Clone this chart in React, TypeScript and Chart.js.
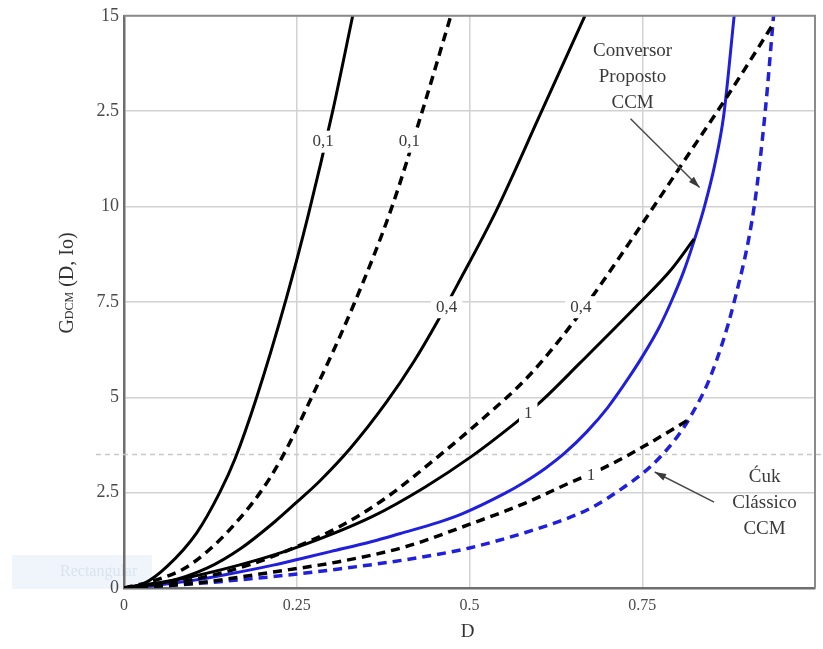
import React, { useEffect, useRef } from 'react';
import { Chart, registerables } from 'chart.js';
Chart.register(...registerables);

const xTickLabels = ['0', '0.25', '0.5', '0.75', ''];
const yTickLabels = ['0', '2.5', '5', '7.5', '10', '2.5', '15'];

// Proposed converter, CCM (blue solid)
const propCcmD = [0, 0.05, 0.1, 0.15, 0.216, 0.263, 0.3, 0.359, 0.4, 0.455, 0.49, 0.551, 0.58, 0.61, 0.638, 0.67, 0.7, 0.73, 0.753, 0.775, 0.793, 0.81, 0.825, 0.84, 0.855, 0.868, 0.883];
const propCcmG = [0, 0.08, 0.2, 0.36, 0.6, 0.8, 0.96, 1.22, 1.43, 1.72, 1.95, 2.48, 2.78, 3.14, 3.54, 4.1, 4.73, 5.5, 6.15, 6.85, 7.55, 8.3, 9.1, 10.0, 11.1, 12.4, 15];
// Classic Cuk, CCM (blue dashed)
const cukCcmD = [0, 0.1, 0.216, 0.311, 0.407, 0.5, 0.58, 0.638, 0.676, 0.72, 0.763, 0.8, 0.82, 0.85, 0.883, 0.912, 0.928, 0.94];
const cukCcmG = [0, 0.11, 0.3, 0.5, 0.74, 1.05, 1.45, 1.8, 2.1, 2.6, 3.2, 3.95, 4.5, 5.6, 7.5, 10, 12.5, 15];
// Proposed DCM, k = 0.1 (black solid)
const prop01D = [0, 0.03, 0.062, 0.105, 0.139, 0.161, 0.192, 0.235, 0.267, 0.302, 0.331];
const prop01G = [0, 0.13, 0.56, 1.44, 2.52, 3.4, 5.0, 7.6, 9.8, 12.5, 15];
// Cuk DCM, k = 0.1 (black dashed)
const cuk01D = [0, 0.045, 0.086, 0.12, 0.154, 0.197, 0.228, 0.269, 0.333, 0.387, 0.43, 0.473];
const cuk01G = [0, 0.2, 0.5, 0.95, 1.55, 2.5, 3.4, 4.9, 7.45, 9.95, 12.4, 15];
// Proposed DCM, k = 0.4 (black solid)
const prop04D = [0, 0.06, 0.12, 0.17, 0.219, 0.25, 0.283, 0.327, 0.379, 0.42, 0.454, 0.484, 0.539, 0.602, 0.667];
const prop04G = [0, 0.15, 0.52, 1.05, 1.75, 2.25, 2.8, 3.65, 4.85, 5.95, 7.0, 8.0, 9.9, 12.4, 15];
// Cuk DCM, k = 0.4 (black dashed)
const cuk04D = [0, 0.06, 0.12, 0.18, 0.239, 0.311, 0.378, 0.455, 0.52, 0.58, 0.628, 0.676, 0.763, 0.82, 0.868, 0.914, 0.94];
const cuk04G = [0, 0.1, 0.3, 0.6, 1.0, 1.6, 2.35, 3.45, 4.45, 5.45, 6.45, 7.6, 9.9, 11.45, 12.75, 14.05, 14.8];
// Proposed DCM, k = 1 (black solid)
const prop1D = [0, 0.096, 0.192, 0.263, 0.359, 0.436, 0.503, 0.561, 0.604, 0.66, 0.745, 0.792, 0.825];
const prop1G = [0, 0.29, 0.73, 1.15, 1.87, 2.65, 3.45, 4.25, 4.9, 5.9, 7.45, 8.35, 9.15];
// Cuk DCM, k = 1 (black dashed)
const cuk1D = [0, 0.1, 0.216, 0.311, 0.407, 0.503, 0.58, 0.638, 0.7, 0.753, 0.816];
const cuk1G = [0, 0.12, 0.42, 0.69, 1.08, 1.69, 2.22, 2.7, 3.2, 3.72, 4.4];

const refLevel = 3.5;

const curveLabels = [
  { text: '0,1', d: 0.288, g: 11.7 },
  { text: '0,1', d: 0.413, g: 11.7 },
  { text: '0,4', d: 0.467, g: 7.36 },
  { text: '0,4', d: 0.661, g: 7.36 },
  { text: '1', d: 0.585, g: 4.58 },
  { text: '1', d: 0.676, g: 2.96 },
];

const notes = [
  { lines: ['Conversor', 'Proposto', 'CCM'], d: 0.736, g: 14.08, from: [0.733, 12.3], to: [0.833, 10.5] },
  { lines: ['Ćuk', 'Clássico', 'CCM'], d: 0.927, g: 2.92, from: [0.854, 2.25], to: [0.768, 3.04] },
];

const pts = (xs: number[], ys: number[]) => xs.map((x, i) => ({ x, y: ys[i] }));

const BLUE = '#2020dc';
const SERIF = '"Liberation Serif", "DejaVu Serif", serif';

export default function App() {
  const ref = useRef<HTMLCanvasElement | null>(null);
  useEffect(() => {
    const canvas = ref.current;
    if (!canvas) return;
    const solid = (data: any, color: string) => ({
      data, borderColor: color, borderWidth: 3, pointRadius: 0, fill: false,
      cubicInterpolationMode: 'monotone' as const,
    });
    const dashed = (data: any, color: string) => ({
      data, borderColor: color, borderWidth: 3.5, borderDash: [9, 6], pointRadius: 0, fill: false,
      cubicInterpolationMode: 'monotone' as const,
    });
    const overlay = {
      id: 'overlay',
      beforeDraw(chart: any) {
        const c = chart.ctx;
        c.save();
        c.fillStyle = '#ffffff';
        c.fillRect(0, 0, chart.width, chart.height);
        c.fillStyle = 'rgba(225,236,248,0.55)';
        c.fillRect(12, 555, 140, 34);
        c.fillStyle = 'rgba(180,195,215,0.35)';
        c.font = '16px ' + SERIF;
        c.textBaseline = 'middle';
        c.fillText('Rectangular', 60, 572);
        c.restore();
      },
      beforeDatasetsDraw(chart: any) {
        const c = chart.ctx;
        const y = chart.scales.y.getPixelForValue(refLevel);
        c.save();
        c.strokeStyle = '#c8c8c8';
        c.lineWidth = 1.5;
        c.setLineDash([5, 4]);
        c.beginPath();
        c.moveTo(chart.chartArea.left - 28, y);
        c.lineTo(chart.width, y);
        c.stroke();
        c.restore();
      },
      afterDatasetsDraw(chart: any) {
        const c = chart.ctx;
        const xs = chart.scales.x, ys = chart.scales.y;
        const a = chart.chartArea;
        c.save();
        c.strokeStyle = '#8a8a8a';
        c.lineWidth = 2;
        c.beginPath();
        c.moveTo(a.left, a.top);
        c.lineTo(a.right, a.top);
        c.lineTo(a.right, a.bottom);
        c.stroke();
        c.font = '17px ' + SERIF;
        c.textAlign = 'center';
        c.textBaseline = 'middle';
        for (const l of curveLabels) {
          const px = xs.getPixelForValue(l.d), py = ys.getPixelForValue(l.g);
          const w = c.measureText(l.text).width;
          c.fillStyle = '#ffffff';
          c.fillRect(px - w / 2 - 5, py - 11, w + 10, 22);
          c.fillStyle = '#3a3a3a';
          c.fillText(l.text, px, py);
        }
        c.font = '19px ' + SERIF;
        for (const n of notes) {
          const px = xs.getPixelForValue(n.d), py = ys.getPixelForValue(n.g);
          c.fillStyle = '#3a3a3a';
          n.lines.forEach((t, i) => c.fillText(t, px, py + i * 26));
          const x1 = xs.getPixelForValue(n.from[0]), y1 = ys.getPixelForValue(n.from[1]);
          const x2 = xs.getPixelForValue(n.to[0]), y2 = ys.getPixelForValue(n.to[1]);
          c.strokeStyle = '#4a4a4a';
          c.lineWidth = 1.5;
          c.beginPath();
          c.moveTo(x1, y1);
          c.lineTo(x2, y2);
          c.stroke();
          const ang = Math.atan2(y2 - y1, x2 - x1);
          c.fillStyle = '#3a3a3a';
          c.beginPath();
          c.moveTo(x2, y2);
          c.lineTo(x2 - 12 * Math.cos(ang - 0.3), y2 - 12 * Math.sin(ang - 0.3));
          c.lineTo(x2 - 12 * Math.cos(ang + 0.3), y2 - 12 * Math.sin(ang + 0.3));
          c.closePath();
          c.fill();
        }
        c.fillStyle = '#333333';
        c.font = '19px ' + SERIF;
        c.textAlign = 'center';
        c.fillText('D', (a.left + a.right) / 2 - 2, 632);
        c.translate(66, 283);
        c.rotate(-Math.PI / 2);
        const parts = [
          { t: 'G', f: '20px ' + SERIF },
          { t: 'DCM', f: '12px ' + SERIF },
          { t: ' (D, Io)', f: '20px ' + SERIF },
        ];
        let total = 0;
        const widths = parts.map((p) => { c.font = p.f; const w = c.measureText(p.t).width; total += w; return w; });
        let x = -total / 2;
        c.textAlign = 'left';
        c.textBaseline = 'alphabetic';
        parts.forEach((p, i) => { c.font = p.f; c.fillText(p.t, x, 7); x += widths[i]; });
        c.restore();
      },
    };
    const chart = new Chart(canvas, {
      type: 'line',
      data: {
        datasets: [
          solid(pts(prop01D, prop01G), '#000000'),
          dashed(pts(cuk01D, cuk01G), '#000000'),
          solid(pts(prop04D, prop04G), '#000000'),
          dashed(pts(cuk04D, cuk04G), '#000000'),
          solid(pts(prop1D, prop1G), '#000000'),
          dashed(pts(cuk1D, cuk1G), '#000000'),
          solid(pts(propCcmD, propCcmG), BLUE),
          dashed(pts(cukCcmD, cukCcmG), BLUE),
        ],
      },
      options: {
        animation: false,
        responsive: false,
        layout: { padding: { top: 15, right: 5, left: 0, bottom: 0 } },
        plugins: { legend: { display: false }, tooltip: { enabled: false } },
        scales: {
          x: {
            type: 'linear', min: 0, max: 1,
            afterFit: (s: any) => { s.height = 61; },
            grid: { color: '#d2d2d2', lineWidth: 1.5, drawTicks: false },
            border: { color: '#6e6e6e', width: 2.5 },
            ticks: {
              stepSize: 0.25, padding: 8, color: '#4a4a4a', maxRotation: 0,
              font: { family: SERIF, size: 16 },
              callback: (_v: any, i: number) => xTickLabels[i] ?? '',
            },
          },
          y: {
            type: 'linear', min: 0, max: 15,
            afterFit: (s: any) => { s.width = 124; },
            grid: { color: '#d2d2d2', lineWidth: 1.5, drawTicks: false },
            border: { color: '#6e6e6e', width: 2.5 },
            ticks: {
              stepSize: 2.5, padding: 5, color: '#4a4a4a',
              font: { family: SERIF, size: 18 },
              callback: (_v: any, i: number) => yTickLabels[i] ?? '',
            },
          },
        },
      },
      plugins: [overlay],
    });
    return () => chart.destroy();
  }, []);
  return (
    <div style={{ position: 'absolute', left: 0, top: 0, width: 823, height: 649, background: '#fff' }}>
      <canvas ref={ref} width={823} height={649} style={{ width: 823, height: 649, display: 'block' }} />
    </div>
  );
}
